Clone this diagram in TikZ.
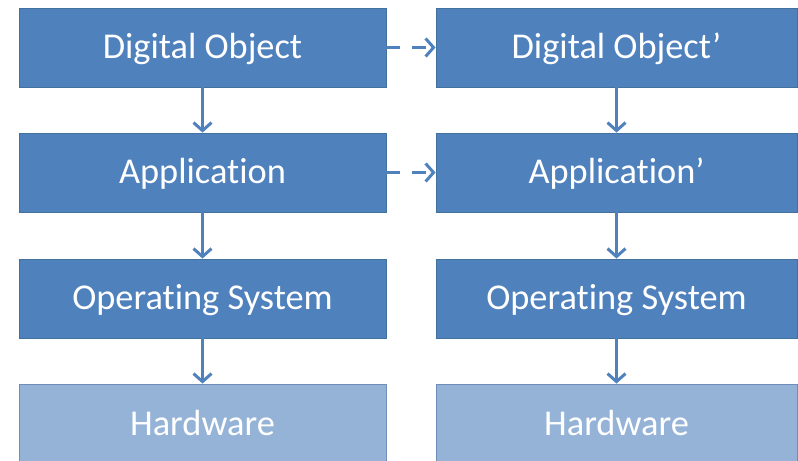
\documentclass[tikz,border=0pt]{standalone}
\usepackage{fontspec}
\setmainfont{Carlito}[Ligatures={NoCommon,NoContextual}]
\usetikzlibrary{arrows.meta}
\definecolor{boxblue}{HTML}{4F81BD}
\definecolor{boxedge}{HTML}{41719C}
\definecolor{hwblue}{HTML}{95B3D7}
\definecolor{hwedge}{HTML}{6E8DB8}
\tikzset{
  layer/.style={rectangle, fill=boxblue, draw=boxedge, line width=0.8bp, minimum height=79bp, inner sep=0pt, text height=23bp, text depth=0pt, text=white, font=\fontsize{36.5}{40}\selectfont},
  hw/.style={layer, fill=hwblue, draw=hwedge},
  flow/.style={draw=boxblue, line width=3bp, -{Straight Barb[length=8bp,width=18bp,line width=3bp]}},
  derive/.style={flow, dash pattern=on 14bp off 12bp}
}
\begin{document}
\begin{tikzpicture}[x=1bp,y=-1bp]
\useasboundingbox (0,0) rectangle (798,461);
\clip (0,0) rectangle (798,461);
\node[layer, minimum width=367bp] (do)  at (202.5,47.5) {Digital Object};
\node[layer, minimum width=367bp] (app) at (202.5,172.5) {Application};
\node[layer, minimum width=367bp] (os)  at (202.5,298.5) {Operating System};
\node[hw, minimum width=367bp] (hw)  at (202.5,423.5) {Hardware};
\node[layer, minimum width=361bp] (do2)  at (616.5,47.5) {Digital Object’};
\node[layer, minimum width=361bp] (app2) at (616.5,172.5) {Application’};
\node[layer, minimum width=361bp] (os2)  at (616.5,298.5) {Operating System};
\node[hw, minimum width=361bp] (hw2)  at (616.5,423.5) {Hardware};
\draw[flow] (do) -- (app);
\draw[flow] (app) -- (os);
\draw[flow] (os) -- (hw);
\draw[flow] (do2) -- (app2);
\draw[flow] (app2) -- (os2);
\draw[flow] (os2) -- (hw2);
\draw[derive] (do) -- (do2);
\draw[derive] (app) -- (app2);
\end{tikzpicture}
\end{document}
